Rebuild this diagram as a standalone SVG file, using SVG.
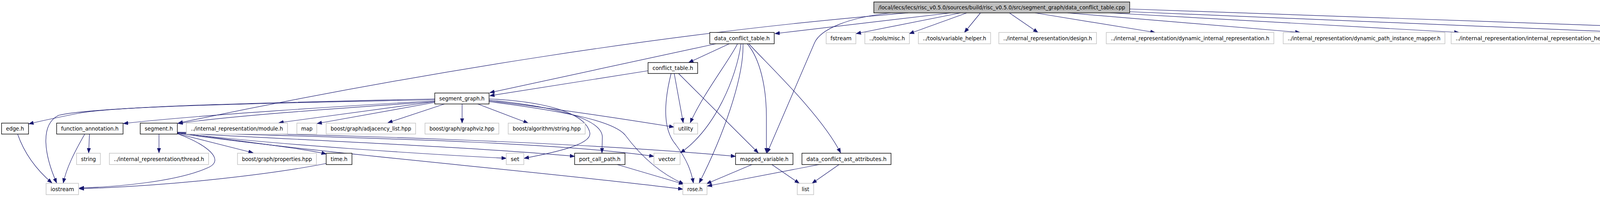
<svg xmlns="http://www.w3.org/2000/svg" width="4864" height="504" viewBox="0 0 4864 504">
<style>
.n rect{fill:#fff;stroke:#000;stroke-width:1.4}
.u rect{fill:#fff;stroke:#bfbfbf;stroke-width:1.4}
.r rect{fill:#bfbfbf;stroke:#000;stroke-width:1.4}
text{font-family:"DejaVu Sans",sans-serif;font-size:13.8px;fill:#000;text-anchor:middle}
#edges path{fill:none;stroke:#191970;stroke-width:1.2;marker-end:url(#a)}
</style>
<defs>
<marker id="a" markerUnits="userSpaceOnUse" markerWidth="14" markerHeight="10" refX="12" refY="5" orient="auto" viewBox="0 0 14 10">
<path d="M0,0.5 L12,5 L0,9.5 Z" fill="#191970" stroke="#191970" stroke-width="1"/>
</marker>
</defs>
<rect width="4864" height="504" fill="#fff"/>
<g id="edges">
<path d="M2434,33 L1984,86"/>
<path d="M2325,33 C1725,81 1055,189 456,315"/>
<path d="M2280,33 C2170,45 2100,75 2085,110 L1964,391"/>
<path d="M2459,33 L2192,86"/>
<path d="M2475,33 L2328,86"/>
<path d="M2510,33 L2469,83"/>
<path d="M2584,33 L2657,83"/>
<path d="M2650,33 L2957,83"/>
<path d="M2733,33 L3328,83"/>
<path d="M2842,33 L3735,83"/>
<path d="M2892,30 L4174,83"/>
<path d="M2892,23 L4606,83"/>
<path d="M1833,112 L1254,237"/>
<path d="M1867,112 L1763,160"/>
<path d="M1888,112 C1870,150 1800,240 1767,314"/>
<path d="M1897,112 C1885,200 1830,330 1742,391"/>
<path d="M1902,112 C1905,200 1850,350 1790,468"/>
<path d="M1913,112 C1945,150 1962,220 1962,300 L1962,391"/>
<path d="M1917,112 C1960,160 2100,290 2152,391"/>
<path d="M1659,181 L1254,245"/>
<path d="M1718,188 C1700,260 1695,330 1730,370 C1760,410 1770,440 1775,468"/>
<path d="M1726,188 L1749,314"/>
<path d="M1737,188 L1941,391"/>
<path d="M1113,253 C800,260 300,270 200,290 C150,300 110,308 74,317"/>
<path d="M1113,255 C800,262 250,270 150,295 C100,320 115,400 145,468"/>
<path d="M1113,258 C900,270 500,295 316,316"/>
<path d="M1113,260 C900,275 600,295 456,316"/>
<path d="M1113,260 L714,314"/>
<path d="M1113,262 L812,316"/>
<path d="M1138,266 L993,314"/>
<path d="M1183,266 L1183,315"/>
<path d="M1223,266 L1352,315"/>
<path d="M1252,253 C1400,260 1500,290 1510,340 C1515,370 1420,390 1342,405"/>
<path d="M1252,256 C1400,270 1540,300 1542,350 L1541,391"/>
<path d="M1252,258 C1400,275 1600,305 1725,325"/>
<path d="M1252,260 C1450,285 1570,310 1600,345 C1630,385 1680,440 1750,470"/>
<path d="M407,343 L407,391"/>
<path d="M454,342 L648,391"/>
<path d="M454,342 C530,370 580,410 530,430 C450,465 300,478 203,481"/>
<path d="M454,339 C600,360 780,380 835,394"/>
<path d="M454,340 C700,370 1100,395 1296,405"/>
<path d="M454,340 C800,360 1200,375 1471,400"/>
<path d="M454,339 C800,350 1400,360 1674,400"/>
<path d="M454,338 C900,345 1500,365 1883,400"/>
<path d="M454,341 C800,390 1400,440 1748,484"/>
<path d="M45,343 C65,400 100,440 133,468"/>
<path d="M229,343 L227,391"/>
<path d="M217,343 C190,390 170,430 162,468"/>
<path d="M836,418 C700,445 450,475 203,483"/>
<path d="M1580,421 L1750,471"/>
<path d="M1925,421 L1809,470"/>
<path d="M1976,421 L2046,469"/>
<path d="M2097,421 L1811,476"/>
<path d="M2148,421 L2079,469"/>
</g>
<g id="node-root" class="r"><rect x="2237" y="5" width="655" height="28"/><text x="2564.5" y="24" textLength="632" lengthAdjust="spacingAndGlyphs">/local/lecs/lecs/risc_v0.5.0/sources/build/risc_v0.5.0/src/segment_graph/data_conflict_table.cpp</text></g>
<g id="node-data_conflict_table_h" class="n"><rect x="1817" y="83" width="165" height="29"/><text x="1899.5" y="102.5" textLength="142" lengthAdjust="spacingAndGlyphs">data_conflict_table.h</text></g>
<g id="node-fstream" class="u"><rect x="2115" y="83" width="76" height="29"/><text x="2153" y="102.5" textLength="54" lengthAdjust="spacingAndGlyphs">fstream</text></g>
<g id="node-misc_h" class="u"><rect x="2214" y="83" width="114" height="29"/><text x="2271" y="102.5" textLength="91" lengthAdjust="spacingAndGlyphs">../tools/misc.h</text></g>
<g id="node-variable_helper_h" class="u"><rect x="2351" y="83" width="185" height="29"/><text x="2443.5" y="102.5" textLength="162" lengthAdjust="spacingAndGlyphs">../tools/variable_helper.h</text></g>
<g id="node-design_h" class="u"><rect x="2557" y="83" width="250" height="29"/><text x="2682" y="102.5" textLength="227" lengthAdjust="spacingAndGlyphs">../internal_representation/design.h</text></g>
<g id="node-dynamic_internal_representation_h" class="u"><rect x="2832" y="83" width="429" height="29"/><text x="3046.5" y="102.5" textLength="406" lengthAdjust="spacingAndGlyphs">../internal_representation/dynamic_internal_representation.h</text></g>
<g id="node-dynamic_path_instance_mapper_h" class="u"><rect x="3285" y="83" width="414" height="29"/><text x="3492" y="102.5" textLength="391" lengthAdjust="spacingAndGlyphs">../internal_representation/dynamic_path_instance_mapper.h</text></g>
<g id="node-internal_representation_helper_h" class="u"><rect x="3715" y="83" width="434" height="29"/><text x="3932" y="102.5" textLength="411" lengthAdjust="spacingAndGlyphs">../internal_representation/internal_representation_helper.h</text></g>
<g id="node-static_path_instance_mapper_h" class="u"><rect x="4172" y="83" width="410" height="29"/><text x="4377" y="102.5" textLength="387" lengthAdjust="spacingAndGlyphs">../internal_representation/static_path_instance_mapper.h</text></g>
<g id="node-object_h" class="u"><rect x="4606" y="83" width="240" height="29"/><text x="4726" y="102.5" textLength="219" lengthAdjust="spacingAndGlyphs">../internal_representation/object.h</text></g>
<g id="node-conflict_table_h" class="n"><rect x="1659" y="160" width="127" height="28"/><text x="1722.5" y="179" textLength="104" lengthAdjust="spacingAndGlyphs">conflict_table.h</text></g>
<g id="node-segment_graph_h" class="n"><rect x="1113" y="238" width="139" height="28"/><text x="1182.5" y="257" textLength="116" lengthAdjust="spacingAndGlyphs">segment_graph.h</text></g>
<g id="node-edge_h" class="n"><rect x="4" y="315" width="69" height="28"/><text x="38.5" y="334" textLength="46" lengthAdjust="spacingAndGlyphs">edge.h</text></g>
<g id="node-function_annotation_h" class="n"><rect x="145" y="315" width="170" height="28"/><text x="230" y="334" textLength="147" lengthAdjust="spacingAndGlyphs">function_annotation.h</text></g>
<g id="node-segment_h" class="n"><rect x="359" y="315" width="95" height="28"/><text x="406.5" y="334" textLength="72" lengthAdjust="spacingAndGlyphs">segment.h</text></g>
<g id="node-module_h" class="u"><rect x="477" y="315" width="259" height="28"/><text x="606.5" y="334" textLength="236" lengthAdjust="spacingAndGlyphs">../internal_representation/module.h</text></g>
<g id="node-map" class="u"><rect x="760" y="315" width="51" height="28"/><text x="785.5" y="334" textLength="29" lengthAdjust="spacingAndGlyphs">map</text></g>
<g id="node-adjacency_list_hpp" class="u"><rect x="835" y="315" width="229" height="28"/><text x="949.5" y="334" textLength="206" lengthAdjust="spacingAndGlyphs">boost/graph/adjacency_list.hpp</text></g>
<g id="node-graphviz_hpp" class="u"><rect x="1088" y="315" width="189" height="28"/><text x="1182.5" y="334" textLength="166" lengthAdjust="spacingAndGlyphs">boost/graph/graphviz.hpp</text></g>
<g id="node-string_hpp" class="u"><rect x="1301" y="315" width="197" height="28"/><text x="1399.5" y="334" textLength="174" lengthAdjust="spacingAndGlyphs">boost/algorithm/string.hpp</text></g>
<g id="node-utility" class="u"><rect x="1725" y="315" width="61" height="28"/><text x="1755.5" y="334" textLength="38" lengthAdjust="spacingAndGlyphs">utility</text></g>
<g id="node-string" class="u"><rect x="196" y="392" width="61" height="29"/><text x="226.5" y="411.5" textLength="38" lengthAdjust="spacingAndGlyphs">string</text></g>
<g id="node-thread_h" class="u"><rect x="280" y="392" width="254" height="29"/><text x="407" y="411.5" textLength="231" lengthAdjust="spacingAndGlyphs">../internal_representation/thread.h</text></g>
<g id="node-properties_hpp" class="u"><rect x="608" y="392" width="202" height="29"/><text x="709" y="411.5" textLength="179" lengthAdjust="spacingAndGlyphs">boost/graph/properties.hpp</text></g>
<g id="node-time_h" class="n"><rect x="835" y="392" width="66" height="29"/><text x="868" y="411.5" textLength="43" lengthAdjust="spacingAndGlyphs">time.h</text></g>
<g id="node-set" class="u"><rect x="1296" y="392" width="45" height="29"/><text x="1318.5" y="411.5" textLength="22" lengthAdjust="spacingAndGlyphs">set</text></g>
<g id="node-port_call_path_h" class="n"><rect x="1471" y="392" width="129" height="29"/><text x="1535.5" y="411.5" textLength="106" lengthAdjust="spacingAndGlyphs">port_call_path.h</text></g>
<g id="node-vector" class="u"><rect x="1674" y="392" width="67" height="29"/><text x="1707.5" y="411.5" textLength="44" lengthAdjust="spacingAndGlyphs">vector</text></g>
<g id="node-mapped_variable_h" class="n"><rect x="1883" y="392" width="147" height="29"/><text x="1956.5" y="411.5" textLength="124" lengthAdjust="spacingAndGlyphs">mapped_variable.h</text></g>
<g id="node-data_conflict_ast_attributes_h" class="n"><rect x="2053" y="392" width="228" height="29"/><text x="2167" y="411.5" textLength="205" lengthAdjust="spacingAndGlyphs">data_conflict_ast_attributes.h</text></g>
<g id="node-iostream" class="u"><rect x="118" y="469" width="83" height="29"/><text x="159.5" y="488.5" textLength="60" lengthAdjust="spacingAndGlyphs">iostream</text></g>
<g id="node-rose_h" class="u"><rect x="1748" y="469" width="62" height="29"/><text x="1779" y="488.5" textLength="39" lengthAdjust="spacingAndGlyphs">rose.h</text></g>
<g id="node-list" class="u"><rect x="2041" y="469" width="42" height="29"/><text x="2062" y="488.5" textLength="19" lengthAdjust="spacingAndGlyphs">list</text></g>
</svg>
